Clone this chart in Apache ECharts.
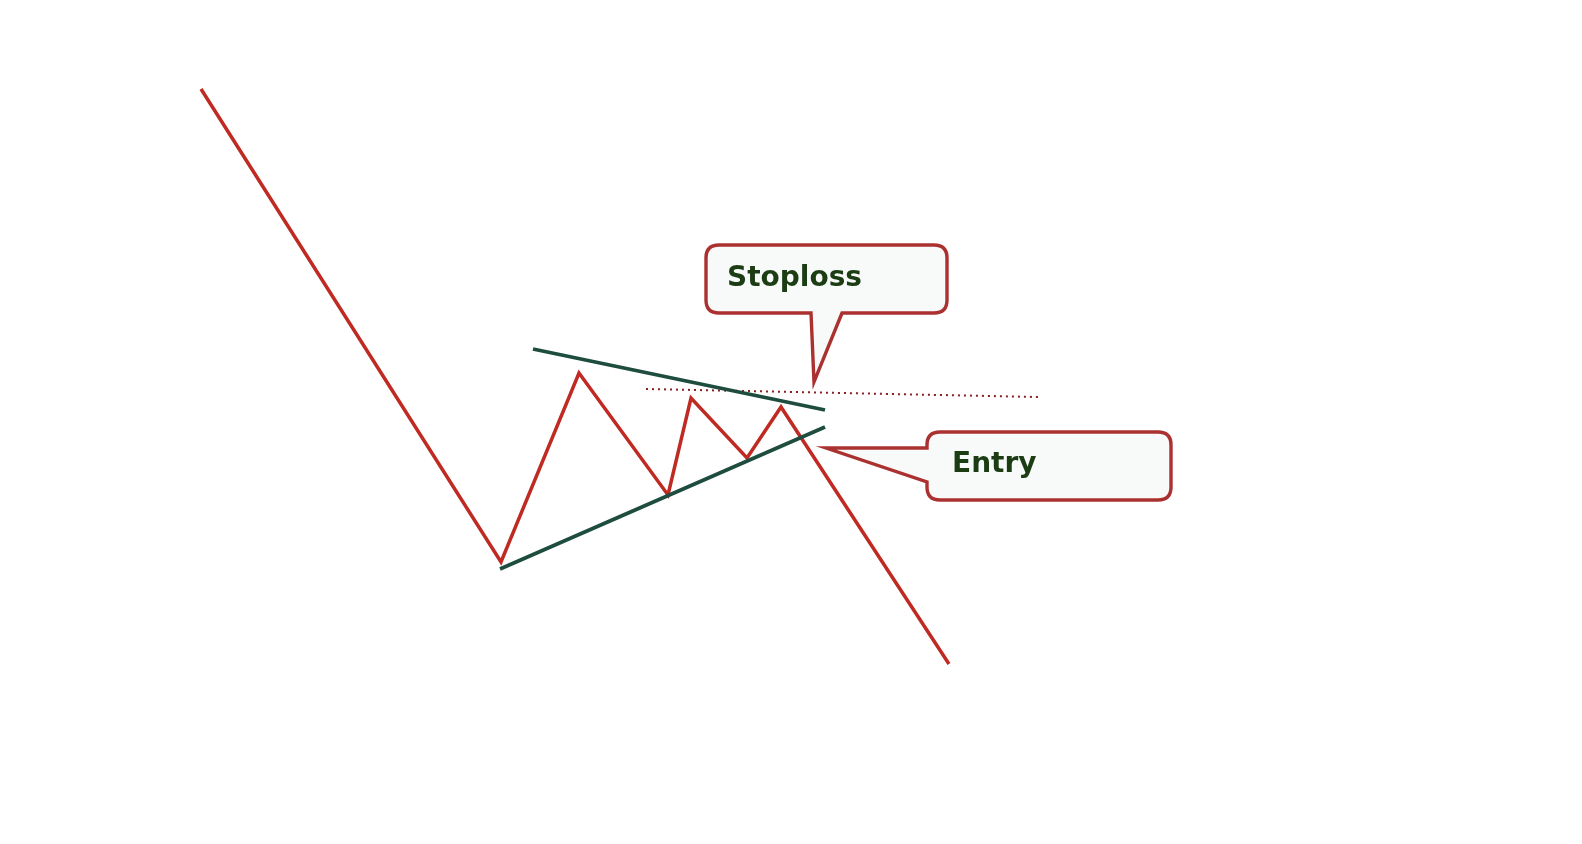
<!DOCTYPE html>
<html>
<head>
<meta charset="utf-8">
<script src="https://cdn.jsdelivr.net/npm/echarts@6/dist/echarts.min.js"></script>
<style>
  html, body { margin: 0; padding: 0; background: #ffffff; }
  #chart { width: 1582px; height: 844px; }
</style>
</head>
<body>
<div id="chart"></div>
<script>
// Price path (x = time units, y = price units)
const priceX = [201, 501, 579, 668, 691, 747, 781, 949];
const priceY = [755, 282, 471, 349, 446, 386, 437, 180];

// Triangle trendlines
const upperTrendX = [533, 825];
const upperTrendY = [495, 434];
const lowerTrendX = [500, 825];
const lowerTrendY = [275, 417];

// Stoploss level (dotted)
const stopX = [646, 1038];
const stopY = [455, 447];

// Callouts: label and the point they point at
const calloutLabels = ['Stoploss', 'Entry'];
const calloutX = [814, 826];
const calloutY = [462, 396];

const pair = (xs, ys) => xs.map((x, i) => [x, ys[i]]);

function roundedCalloutPath(x0, y0, x1, y1, r, pointer) {
  let d = `M ${x0 + r} ${y0} L ${x1 - r} ${y0} Q ${x1} ${y0} ${x1} ${y0 + r} L ${x1} ${y1 - r} Q ${x1} ${y1} ${x1 - r} ${y1} `;
  if (pointer.side === 'bottom') {
    d += `L ${pointer.b} ${y1} L ${pointer.tx} ${pointer.ty} L ${pointer.a} ${y1} `;
  }
  d += `L ${x0 + r} ${y1} Q ${x0} ${y1} ${x0} ${y1 - r} `;
  if (pointer.side === 'left') {
    d += `L ${x0} ${pointer.b} L ${pointer.tx} ${pointer.ty} L ${x0} ${pointer.a} `;
  }
  d += `L ${x0} ${y0 + r} Q ${x0} ${y0} ${x0 + r} ${y0} Z`;
  return d;
}

const chart = echarts.init(document.getElementById('chart'), null, { renderer: 'canvas' });

const red = '#bf2a23';
const green = '#1e4d3f';

chart.setOption({
  backgroundColor: '#ffffff',
  animation: false,
  grid: { left: 0, right: 0, top: 0, bottom: 0 },
  xAxis: { type: 'value', min: 0, max: 1582, show: false },
  yAxis: { type: 'value', min: 0, max: 844, show: false },
  series: [
    {
      type: 'line',
      data: pair(stopX, stopY),
      symbol: 'none',
      lineStyle: { color: '#8a1e1e', width: 2, type: [2, 4] },
      z: 1
    },
    {
      type: 'line',
      data: pair(priceX, priceY),
      symbol: 'none',
      lineStyle: { color: red, width: 3.5, join: 'miter' },
      z: 3
    },
    {
      type: 'line',
      data: pair(upperTrendX, upperTrendY),
      symbol: 'none',
      lineStyle: { color: green, width: 3.8 },
      z: 4
    },
    {
      type: 'line',
      data: pair(lowerTrendX, lowerTrendY),
      symbol: 'none',
      lineStyle: { color: green, width: 3.8 },
      z: 4
    },
    {
      type: 'custom',
      coordinateSystem: 'cartesian2d',
      clip: false,
      z: 5,
      data: calloutLabels.map((l, i) => [calloutX[i], calloutY[i], i]),
      renderItem: function (params, api) {
        const p = api.coord([api.value(0), api.value(1)]);
        const idx = api.value(2);
        const tx = p[0], ty = p[1];
        let d, textX, textY;
        if (idx === 0) {
          d = roundedCalloutPath(tx - 108, ty - 137, tx + 133, ty - 69, 13,
            { side: 'bottom', a: tx - 3, b: tx + 28, tx: tx, ty: ty });
          textX = tx - 87; textY = ty - 103;
        } else {
          d = roundedCalloutPath(tx + 101, ty - 16, tx + 345, ty + 52, 13,
            { side: 'left', a: ty, b: ty + 34, tx: tx, ty: ty });
          textX = tx + 126; textY = ty + 17;
        }
        return {
          type: 'group',
          children: [
            {
              type: 'path',
              shape: { pathData: d },
              style: { fill: '#f8faf9', stroke: '#ab3130', lineWidth: 3.4, lineJoin: 'miter' }
            },
            {
              type: 'text',
              style: {
                text: calloutLabels[idx],
                x: textX, y: textY,
                fill: '#1c3d13',
                font: 'bold 28px "DejaVu Sans", Verdana, sans-serif',
                verticalAlign: 'middle',
                align: 'left'
              }
            }
          ]
        };
      }
    }
  ]
});
</script>
</body>
</html>
